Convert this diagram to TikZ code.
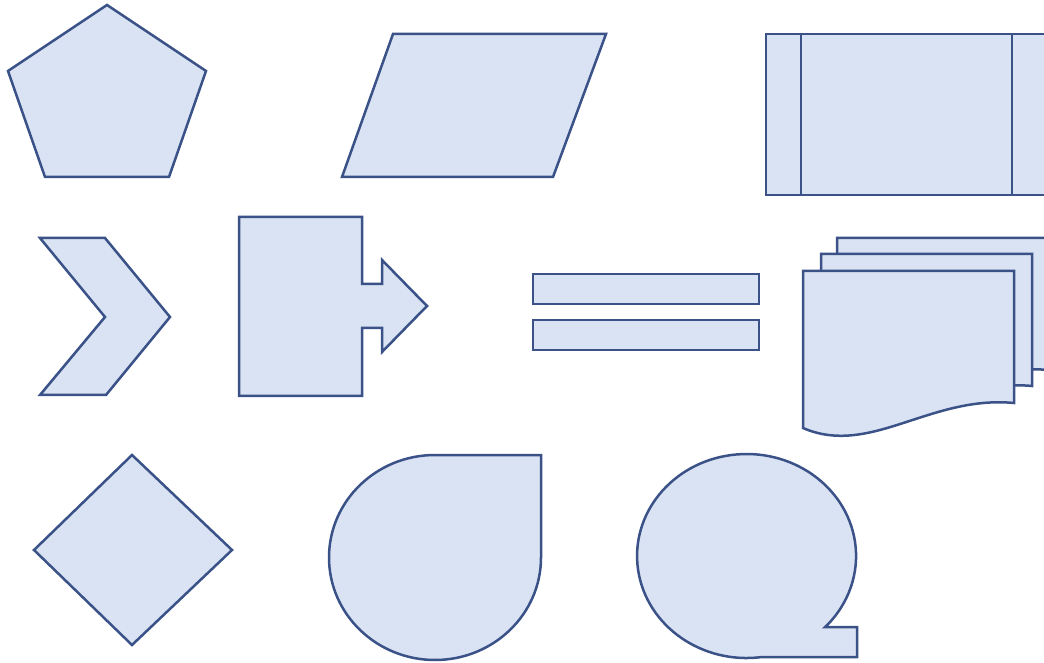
\documentclass[tikz,border=0pt]{standalone}
\usepackage{tikz}
\definecolor{shapefill}{RGB}{218,227,243}
\definecolor{shapeline}{RGB}{58,82,136}
\tikzset{
  shp/.style={fill=shapefill, draw=shapeline, line width=2.5pt, line join=miter},
}
\begin{document}
\begin{tikzpicture}[x=1pt,y=1pt]
\useasboundingbox (0,0) rectangle (1044,662);
\fill[white] (0,0) rectangle (1044,662);
% pentagon
\draw[shp] (107,657) -- (206,591) -- (169,485) -- (45,485) -- (8,591) -- cycle;
% parallelogram
\draw[shp] (393,628) -- (606,628) -- (553,485) -- (342,485) -- cycle;
% predefined process
\draw[shp] (766,467) rectangle (1047,628);
\draw[shp] (801,467) -- (801,628);
\draw[shp] (1012,467) -- (1012,628);
% chevron
\draw[shp] (40,424) -- (105,424) -- (170,345) -- (106,267) -- (40,267) -- (105,345) -- cycle;
% right arrow callout
\draw[shp] (239,445) -- (362,445) -- (362,378) -- (382,378) -- (382,402) -- (427,356)
  -- (382,310) -- (382,334) -- (362,334) -- (362,266) -- (239,266) -- cycle;
% two bars
\draw[shp] (533,358) rectangle (759,388);
\draw[shp] (533,312) rectangle (759,342);
% multidocument
\foreach \dx/\dy in {34/33, 18/17, 0/0}{
  \draw[shp, shift={(\dx,\dy)}] (803,391) -- (1014,391) -- (1014,259)
    .. controls (930,267) and (870,205) .. (803,234) -- cycle;
}
% diamond
\draw[shp] (132,207) -- (232,112) -- (132,17) -- (34,112) -- cycle;
% teardrop
\draw[shp] (435,207) -- (541,207) -- (541,104.5)
  arc[start angle=0, end angle=-270, x radius=106, y radius=102.5] -- cycle;
% oval callout
\draw[shp] (762,5) arc[start angle=-81.9, end angle=-404.1, x radius=109.5, y radius=102]
  -- (857,35) -- (857,5) -- cycle;
\end{tikzpicture}
\end{document}
